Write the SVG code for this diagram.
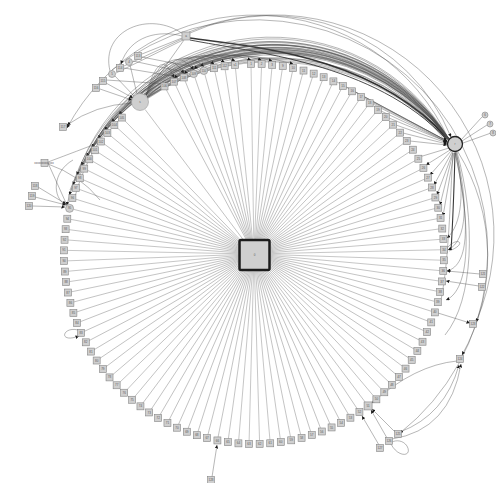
<svg xmlns="http://www.w3.org/2000/svg" width="496" height="483" viewBox="0 0 496 483">
<style>
.sp line{stroke:#a3a3a3;stroke-width:0.6}
.e path{fill:none;stroke:#4a4a4a;stroke-width:0.5;stroke-opacity:0.8}
.e .k{stroke:#222;stroke-width:1.5;stroke-opacity:0.9}
.nd rect,.nd circle{fill:#cfcfcf;stroke:#858585;stroke-width:0.6}
text{font-family:"Liberation Sans",Arial,sans-serif;font-size:3px;fill:#5a5a5a;text-anchor:middle}
</style>
<defs>
<marker id="ar" viewBox="0 0 6 6" refX="6" refY="3" markerWidth="3.5" markerHeight="3.5" orient="auto" markerUnits="userSpaceOnUse"><path d="M0,0L6,3L0,6z" fill="#1a1a1a"/></marker>
</defs>
<rect width="496" height="483" fill="#fff"/>
<g id="connectors">
<g class="sp">
<line transform="rotate(-0.9 254 254)" x1="254" y1="254" x2="254" y2="67.5"/>
<line transform="rotate(2.3 254 254)" x1="254" y1="254" x2="254" y2="67.5"/>
<line transform="rotate(5.5 254 254)" x1="254" y1="254" x2="254" y2="67.5"/>
<line transform="rotate(8.7 254 254)" x1="254" y1="254" x2="254" y2="67.5"/>
<line transform="rotate(11.9 254 254)" x1="254" y1="254" x2="254" y2="67.5"/>
<line transform="rotate(15.1 254 254)" x1="254" y1="254" x2="254" y2="67.5"/>
<line transform="rotate(18.3 254 254)" x1="254" y1="254" x2="254" y2="67.5"/>
<line transform="rotate(21.5 254 254)" x1="254" y1="254" x2="254" y2="67.5"/>
<line transform="rotate(24.7 254 254)" x1="254" y1="254" x2="254" y2="67.5"/>
<line transform="rotate(27.9 254 254)" x1="254" y1="254" x2="254" y2="67.5"/>
<line transform="rotate(31.1 254 254)" x1="254" y1="254" x2="254" y2="67.5"/>
<line transform="rotate(34.3 254 254)" x1="254" y1="254" x2="254" y2="67.5"/>
<line transform="rotate(37.5 254 254)" x1="254" y1="254" x2="254" y2="67.5"/>
<line transform="rotate(40.7 254 254)" x1="254" y1="254" x2="254" y2="67.5"/>
<line transform="rotate(43.9 254 254)" x1="254" y1="254" x2="254" y2="67.5"/>
<line transform="rotate(47.1 254 254)" x1="254" y1="254" x2="254" y2="67.5"/>
<line transform="rotate(50.3 254 254)" x1="254" y1="254" x2="254" y2="67.5"/>
<line transform="rotate(53.5 254 254)" x1="254" y1="254" x2="254" y2="67.5"/>
<line transform="rotate(56.7 254 254)" x1="254" y1="254" x2="254" y2="67.5"/>
<line transform="rotate(59.9 254 254)" x1="254" y1="254" x2="254" y2="67.5"/>
<line transform="rotate(63.1 254 254)" x1="254" y1="254" x2="254" y2="67.5"/>
<line transform="rotate(66.3 254 254)" x1="254" y1="254" x2="254" y2="67.5"/>
<line transform="rotate(69.5 254 254)" x1="254" y1="254" x2="254" y2="67.5"/>
<line transform="rotate(72.7 254 254)" x1="254" y1="254" x2="254" y2="67.5"/>
<line transform="rotate(75.9 254 254)" x1="254" y1="254" x2="254" y2="67.5"/>
<line transform="rotate(79.1 254 254)" x1="254" y1="254" x2="254" y2="67.5"/>
<line transform="rotate(82.3 254 254)" x1="254" y1="254" x2="254" y2="67.5"/>
<line transform="rotate(85.5 254 254)" x1="254" y1="254" x2="254" y2="67.5"/>
<line transform="rotate(88.7 254 254)" x1="254" y1="254" x2="254" y2="67.5"/>
<line transform="rotate(91.9 254 254)" x1="254" y1="254" x2="254" y2="67.5"/>
<line transform="rotate(95.1 254 254)" x1="254" y1="254" x2="254" y2="67.5"/>
<line transform="rotate(98.3 254 254)" x1="254" y1="254" x2="254" y2="67.5"/>
<line transform="rotate(101.5 254 254)" x1="254" y1="254" x2="254" y2="67.5"/>
<line transform="rotate(104.7 254 254)" x1="254" y1="254" x2="254" y2="67.5"/>
<line transform="rotate(107.9 254 254)" x1="254" y1="254" x2="254" y2="67.5"/>
<line transform="rotate(111.1 254 254)" x1="254" y1="254" x2="254" y2="67.5"/>
<line transform="rotate(114.3 254 254)" x1="254" y1="254" x2="254" y2="67.5"/>
<line transform="rotate(117.5 254 254)" x1="254" y1="254" x2="254" y2="67.5"/>
<line transform="rotate(120.7 254 254)" x1="254" y1="254" x2="254" y2="67.5"/>
<line transform="rotate(123.9 254 254)" x1="254" y1="254" x2="254" y2="67.5"/>
<line transform="rotate(127.1 254 254)" x1="254" y1="254" x2="254" y2="67.5"/>
<line transform="rotate(130.3 254 254)" x1="254" y1="254" x2="254" y2="67.5"/>
<line transform="rotate(133.5 254 254)" x1="254" y1="254" x2="254" y2="67.5"/>
<line transform="rotate(136.7 254 254)" x1="254" y1="254" x2="254" y2="67.5"/>
<line transform="rotate(139.9 254 254)" x1="254" y1="254" x2="254" y2="67.5"/>
<line transform="rotate(143.1 254 254)" x1="254" y1="254" x2="254" y2="67.5"/>
<line transform="rotate(146.3 254 254)" x1="254" y1="254" x2="254" y2="67.5"/>
<line transform="rotate(149.5 254 254)" x1="254" y1="254" x2="254" y2="67.5"/>
<line transform="rotate(152.7 254 254)" x1="254" y1="254" x2="254" y2="67.5"/>
<line transform="rotate(155.9 254 254)" x1="254" y1="254" x2="254" y2="67.5"/>
<line transform="rotate(159.1 254 254)" x1="254" y1="254" x2="254" y2="67.5"/>
<line transform="rotate(162.3 254 254)" x1="254" y1="254" x2="254" y2="67.5"/>
<line transform="rotate(165.5 254 254)" x1="254" y1="254" x2="254" y2="67.5"/>
<line transform="rotate(168.7 254 254)" x1="254" y1="254" x2="254" y2="67.5"/>
<line transform="rotate(171.9 254 254)" x1="254" y1="254" x2="254" y2="67.5"/>
<line transform="rotate(175.1 254 254)" x1="254" y1="254" x2="254" y2="67.5"/>
<line transform="rotate(178.3 254 254)" x1="254" y1="254" x2="254" y2="67.5"/>
<line transform="rotate(181.5 254 254)" x1="254" y1="254" x2="254" y2="67.5"/>
<line transform="rotate(184.7 254 254)" x1="254" y1="254" x2="254" y2="67.5"/>
<line transform="rotate(187.9 254 254)" x1="254" y1="254" x2="254" y2="67.5"/>
<line transform="rotate(191.1 254 254)" x1="254" y1="254" x2="254" y2="67.5"/>
<line transform="rotate(194.3 254 254)" x1="254" y1="254" x2="254" y2="67.5"/>
<line transform="rotate(197.5 254 254)" x1="254" y1="254" x2="254" y2="67.5"/>
<line transform="rotate(200.7 254 254)" x1="254" y1="254" x2="254" y2="67.5"/>
<line transform="rotate(203.9 254 254)" x1="254" y1="254" x2="254" y2="67.5"/>
<line transform="rotate(207.1 254 254)" x1="254" y1="254" x2="254" y2="67.5"/>
<line transform="rotate(210.3 254 254)" x1="254" y1="254" x2="254" y2="67.5"/>
<line transform="rotate(213.5 254 254)" x1="254" y1="254" x2="254" y2="67.5"/>
<line transform="rotate(216.7 254 254)" x1="254" y1="254" x2="254" y2="67.5"/>
<line transform="rotate(219.9 254 254)" x1="254" y1="254" x2="254" y2="67.5"/>
<line transform="rotate(223.1 254 254)" x1="254" y1="254" x2="254" y2="67.5"/>
<line transform="rotate(226.3 254 254)" x1="254" y1="254" x2="254" y2="67.5"/>
<line transform="rotate(229.5 254 254)" x1="254" y1="254" x2="254" y2="67.5"/>
<line transform="rotate(232.7 254 254)" x1="254" y1="254" x2="254" y2="67.5"/>
<line transform="rotate(235.9 254 254)" x1="254" y1="254" x2="254" y2="67.5"/>
<line transform="rotate(239.1 254 254)" x1="254" y1="254" x2="254" y2="67.5"/>
<line transform="rotate(242.3 254 254)" x1="254" y1="254" x2="254" y2="67.5"/>
<line transform="rotate(245.5 254 254)" x1="254" y1="254" x2="254" y2="67.5"/>
<line transform="rotate(248.7 254 254)" x1="254" y1="254" x2="254" y2="67.5"/>
<line transform="rotate(251.9 254 254)" x1="254" y1="254" x2="254" y2="67.5"/>
<line transform="rotate(255.1 254 254)" x1="254" y1="254" x2="254" y2="67.5"/>
<line transform="rotate(258.3 254 254)" x1="254" y1="254" x2="254" y2="67.5"/>
<line transform="rotate(261.5 254 254)" x1="254" y1="254" x2="254" y2="67.5"/>
<line transform="rotate(264.7 254 254)" x1="254" y1="254" x2="254" y2="67.5"/>
<line transform="rotate(267.9 254 254)" x1="254" y1="254" x2="254" y2="67.5"/>
<line transform="rotate(271.1 254 254)" x1="254" y1="254" x2="254" y2="67.5"/>
<line transform="rotate(274.3 254 254)" x1="254" y1="254" x2="254" y2="67.5"/>
<line transform="rotate(277.5 254 254)" x1="254" y1="254" x2="254" y2="67.5"/>
<line transform="rotate(280.7 254 254)" x1="254" y1="254" x2="254" y2="67.5"/>
<line transform="rotate(283.9 254 254)" x1="254" y1="254" x2="254" y2="68"/>
<line transform="rotate(287.1 254 254)" x1="254" y1="254" x2="254" y2="67.5"/>
<line transform="rotate(290.3 254 254)" x1="254" y1="254" x2="254" y2="67.5"/>
<line transform="rotate(293.5 254 254)" x1="254" y1="254" x2="254" y2="67.5"/>
<line transform="rotate(296.7 254 254)" x1="254" y1="254" x2="254" y2="67.5"/>
<line transform="rotate(299.9 254 254)" x1="254" y1="254" x2="254" y2="67.5"/>
<line transform="rotate(303.1 254 254)" x1="254" y1="254" x2="254" y2="67.5"/>
<line transform="rotate(306.3 254 254)" x1="254" y1="254" x2="254" y2="67.5"/>
<line transform="rotate(309.5 254 254)" x1="254" y1="254" x2="254" y2="67.5"/>
<line transform="rotate(312.7 254 254)" x1="254" y1="254" x2="254" y2="67.5"/>
<line transform="rotate(315.9 254 254)" x1="254" y1="254" x2="254" y2="67.5"/>
<line transform="rotate(323 254 254)" x1="254" y1="254" x2="254" y2="73"/>
<line transform="rotate(331.9 254 254)" x1="254" y1="254" x2="254" y2="67.5"/>
<line transform="rotate(335.1 254 254)" x1="254" y1="254" x2="254" y2="67.5"/>
<line transform="rotate(338.3 254 254)" x1="254" y1="254" x2="254" y2="67.5"/>
<line transform="rotate(341.5 254 254)" x1="254" y1="254" x2="254" y2="68"/>
<line transform="rotate(344.7 254 254)" x1="254" y1="254" x2="254" y2="68"/>
<line transform="rotate(347.9 254 254)" x1="254" y1="254" x2="254" y2="67.5"/>
<line transform="rotate(351.1 254 254)" x1="254" y1="254" x2="254" y2="67.5"/>
<line transform="rotate(354.3 254 254)" x1="254" y1="254" x2="254" y2="67.5"/>
</g>
<g class="e">
<path d="M147,97 A200,200 0 0 1 447,139"/>
<path d="M147,97 A205,205 0 0 1 447,139"/>
<path d="M147,96 A210,210 0 0 1 448,138"/>
<path d="M147,98 A214,214 0 0 1 447,140"/>
<path d="M146,96 A218,218 0 0 1 448,138"/>
<path d="M147,99 A222,222 0 0 1 446,141"/>
<path d="M147,97 A226,226 0 0 1 448,139"/>
<path d="M147,98 A232,232 0 0 1 447,139"/>
<path d="M147,97 A238,238 0 0 1 448,140"/>
<path d="M147,97 A208,208 0 0 1 447,141"/>
<path d="M146,96 A216,216 0 0 1 448,139"/>
<path d="M147,98 A224,224 0 0 1 447,139"/>
<path class="k" d="M190,38 C240,46 370,52 446,137"/>
<path class="k" d="M190,40 C250,52 375,62 446,139" style="stroke-width:0.9"/>
<path d="M449,139 A214,214 0 0 0 66.6,205.4" marker-end="url(#ar)"/>
<path d="M449,139 A210,210 0 0 0 69.4,195.1" marker-end="url(#ar)"/>
<path d="M449,139 A218,218 0 0 0 72.8,185.1" marker-end="url(#ar)"/>
<path d="M449,139 A206,206 0 0 0 76.8,175.2" marker-end="url(#ar)"/>
<path d="M449,139 A212,212 0 0 0 81.3,165.6" marker-end="url(#ar)"/>
<path d="M449,139 A220,220 0 0 0 86.3,156.3" marker-end="url(#ar)"/>
<path d="M449,139 A208,208 0 0 0 91.8,147.2" marker-end="url(#ar)"/>
<path d="M449,139 A215,215 0 0 0 97.9,138.5" marker-end="url(#ar)"/>
<path d="M449,139 A211,211 0 0 0 104.4,130.1" marker-end="url(#ar)"/>
<path d="M449,139 A217,217 0 0 0 111.4,122.1" marker-end="url(#ar)"/>
<path d="M449,139 A209,209 0 0 0 118.8,114.6" marker-end="url(#ar)"/>
<path d="M449,140 A213,213 0 0 0 67,128" marker-end="url(#ar)"/>
<path d="M449,140 A207,207 0 0 0 74,200"/>
<path d="M449,140 A219,219 0 0 0 70,190"/>
<path d="M448,139 A204,204 0 0 0 79,178"/>
<path d="M448,139 A221,221 0 0 0 84,160"/>
<path d="M448,140 A210,210 0 0 0 90,150"/>
<path d="M448,140 A216,216 0 0 0 100,134"/>
<path d="M448,139 A206,206 0 0 0 108,126"/>
<path d="M448,139 A213,213 0 0 0 76,181"/>
<path d="M146,95 Q160,44 174,77.7" marker-end="url(#ar)"/>
<path d="M146,95 Q165,42 183.8,73.5" marker-end="url(#ar)"/>
<path d="M146,95 Q170,40 193.7,69.8" marker-end="url(#ar)"/>
<path d="M146,95 Q175,40 203.9,66.7" marker-end="url(#ar)"/>
<path d="M146,95 Q180,40 214.2,64.2" marker-end="url(#ar)"/>
<path d="M146,95 Q185,40 224.6,62.3" marker-end="url(#ar)"/>
<path d="M146,95 Q190,40 235.1,60.9" marker-end="url(#ar)"/>
<path d="M146,95 Q198,40 251,60" marker-end="url(#ar)"/>
<path d="M146,95 Q204,40 261.6,60.2" marker-end="url(#ar)"/>
<path d="M146,95 Q209,40 272.2,60.9" marker-end="url(#ar)"/>
<path d="M146,95 Q220,40 293.2,64.1" marker-end="url(#ar)"/>
<path d="M337,82 L447,141" marker-end="url(#ar)"/>
<path d="M346,87 L447,141" marker-end="url(#ar)"/>
<path d="M355,92 L447,141" marker-end="url(#ar)"/>
<path d="M364,98 L447,141" marker-end="url(#ar)"/>
<path d="M373,104 L447,142" marker-end="url(#ar)"/>
<path d="M381,111 L447,142" marker-end="url(#ar)"/>
<path d="M389,118 L447,142" marker-end="url(#ar)"/>
<path d="M396,125 L447,143" marker-end="url(#ar)"/>
<path d="M403,133 L447,144" marker-end="url(#ar)"/>
<path d="M410,141 L447,145" marker-end="url(#ar)"/>
<path d="M449,148 L416,158" marker-end="url(#ar)"/>
<path d="M450,150 L426,165" marker-end="url(#ar)"/>
<path d="M451,151 L430,175" marker-end="url(#ar)"/>
<path d="M452,152 L434,185" marker-end="url(#ar)"/>
<path d="M453,152 L437,195" marker-end="url(#ar)"/>
<path d="M453,153 L440,205" marker-end="url(#ar)"/>
<path d="M454,153 L443,216" marker-end="url(#ar)"/>
<path class="k" d="M455,153 C454,190 453,220 451,250" style="stroke-width:1.1"/>
<path d="M456,152 C465,190 462,225 447,238" marker-end="url(#ar)"/>
<path d="M456,152 C468,200 468,240 448,250" marker-end="url(#ar)"/>
<path d="M455,152 C470,220 470,265 447,271" marker-end="url(#ar)"/>
<path d="M455,152 C472,230 470,290 446,300" marker-end="url(#ar)"/>
<path d="M457,152 C476,220 474,300 445,335"/>
<path d="M453,153 C450,200 449,260 441,300"/>
<path d="M448,247 C458,236 468,244 449,251"/>
<path d="M458,152 A200,200 0 0 1 462,355" marker-end="url(#ar)"/>
<path d="M461,140 L482,117"/>
<path d="M462,141 L487,125"/>
<path d="M463,143 L491,133"/>
<path d="M190,33 A195,195 0 0 1 451,137" marker-end="url(#ar)"/>
<path d="M112,70 A229,229 0 1 1 400,433" marker-end="url(#ar)"/>
<path d="M189,32 A220,220 0 0 1 476,322" marker-end="url(#ar)"/>
<path d="M480,274 L447,271" marker-end="url(#ar)"/>
<path d="M479,286 L446,281" marker-end="url(#ar)"/>
<path d="M438,313 L470,323" marker-end="url(#ar)"/>
<path d="M392,439 Q450,430 461,364" marker-end="url(#ar)"/>
<path d="M400,432 Q445,415 459,365" marker-end="url(#ar)"/>
<path d="M457,361 Q415,365 372,403" marker-end="url(#ar)"/>
<path d="M387,438 L371,410" marker-end="url(#ar)"/>
<path d="M395,432 L372,409" marker-end="url(#ar)"/>
<path d="M379,445 L362,416" marker-end="url(#ar)"/>
<path d="M391,444 C398,458 413,457 407,446 C403,440 396,440 392,442"/>
<path d="M212,477 L217,445" marker-end="url(#ar)"/>
<path d="M182,38 L142,54"/>
<path d="M182,39 L124,66"/>
<path d="M183,40 L116,73"/>
<path d="M184,40 L145,95"/>
<path d="M183,34 C150,10 100,30 110,71"/>
<path d="M182,36 C160,30 130,35 121,64" marker-end="url(#ar)"/>
<path d="M106,83 L133,98" marker-end="url(#ar)"/>
<path d="M100,89 L132,100" marker-end="url(#ar)"/>
<path d="M115,76 L134,96"/>
<path d="M130,65 L137,94"/>
<path d="M142,57 L198,68" marker-end="url(#ar)"/>
<path d="M133,61 L188,73" marker-end="url(#ar)"/>
<path d="M124,68 L178,77" marker-end="url(#ar)"/>
<path d="M106,80 L168,84" marker-end="url(#ar)"/>
<path d="M132,103 Q95,105 67,125" marker-end="url(#ar)"/>
<path d="M48,163 L66,203"/>
<path d="M48,162 Q80,150 98,143"/>
<path d="M48,164 Q80,175 100,200"/>
<path d="M38,187 L66,204" marker-end="url(#ar)"/>
<path d="M35,197 L66,205" marker-end="url(#ar)"/>
<path d="M32,206 L65,207" marker-end="url(#ar)"/>
<path d="M73,160 C52,172 52,198 66,205"/>
<path d="M78,330 C62,326 58,344 79,336" marker-end="url(#ar)"/>
</g>
</g>
<g id="center" class="nd"><rect x="239.5" y="240" width="30" height="30" rx="1.5" style="stroke:#1c1c1c;stroke-width:2.5"/><text x="254.5" y="256">0</text></g>
<g id="hubL" class="nd"><circle cx="140" cy="102" r="8.5" style="stroke:#999"/><text x="140" y="103">s</text></g>
<g id="hubR" class="nd"><circle cx="455" cy="144" r="7.5" style="stroke:#222;stroke-width:1.3"/><text x="455" y="145">r</text></g>
<g id="o1" class="nd"><rect x="182" y="32" width="8" height="8"/><text x="186" y="37">a</text></g>
<g id="o2" class="nd"><rect x="134.5" y="52.5" width="7" height="7"/><text x="138" y="57">113</text></g>
<g id="o3" class="nd"><circle cx="129" cy="62" r="3.5"/><text x="129" y="63">4</text></g>
<g id="o4" class="nd"><rect x="116.5" y="64.5" width="7" height="7"/><text x="120" y="69">114</text></g>
<g id="o5" class="nd"><circle cx="112" cy="74" r="3.5"/><text x="112" y="75">5</text></g>
<g id="o6" class="nd"><rect x="99.5" y="77.5" width="7" height="7"/><text x="103" y="82">115</text></g>
<g id="o7" class="nd"><rect x="92.5" y="84.5" width="7" height="7"/><text x="96" y="89">116</text></g>
<g id="o8" class="nd"><rect x="59.5" y="123.5" width="7" height="7"/><text x="63" y="128">117</text></g>
<g id="o9" class="nd"><rect x="41" y="159.5" width="7" height="7"/><text x="44" y="164">xxxxxxxxxxxxx</text></g>
<g id="o10" class="nd"><rect x="31.5" y="182.5" width="7" height="7"/><text x="35" y="187">118</text></g>
<g id="o11" class="nd"><rect x="28.5" y="192.5" width="7" height="7"/><text x="32" y="197">119</text></g>
<g id="o12" class="nd"><rect x="25.5" y="202.5" width="7" height="7"/><text x="29" y="207">120</text></g>
<g id="o13" class="nd"><circle cx="485" cy="115" r="3"/><text x="485" y="116">6</text></g>
<g id="o14" class="nd"><circle cx="490" cy="124" r="3"/><text x="490" y="125">7</text></g>
<g id="o15" class="nd"><circle cx="493" cy="133" r="3"/><text x="493" y="134">8</text></g>
<g id="o16" class="nd"><rect x="479.5" y="270.5" width="7" height="7"/><text x="483" y="275">121</text></g>
<g id="o17" class="nd"><rect x="478.5" y="283.5" width="7" height="7"/><text x="482" y="288">122</text></g>
<g id="o18" class="nd"><rect x="469.5" y="320.5" width="7" height="7"/><text x="473" y="325">123</text></g>
<g id="o19" class="nd"><rect x="456.5" y="355.5" width="7" height="7"/><text x="460" y="360">124</text></g>
<g id="o20" class="nd"><rect x="394.5" y="430.5" width="7" height="7"/><text x="398" y="435">125</text></g>
<g id="o21" class="nd"><rect x="385.5" y="437.5" width="7" height="7"/><text x="389" y="442">126</text></g>
<g id="o22" class="nd"><rect x="376.5" y="444.5" width="7" height="7"/><text x="380" y="449">127</text></g>
<g id="o23" class="nd"><rect x="207.5" y="476.5" width="7" height="7"/><text x="211" y="481">128</text></g>
<g id="n1" class="nd" transform="rotate(-0.9 254 254) translate(0 -190) rotate(0.9 254 254)"><rect x="250.5" y="250.5" width="7" height="7"/><text x="254" y="255.1">1</text></g>
<g id="n2" class="nd" transform="rotate(2.3 254 254) translate(0 -190) rotate(-2.3 254 254)"><rect x="250.5" y="250.5" width="7" height="7"/><text x="254" y="255.1">2</text></g>
<g id="n3" class="nd" transform="rotate(5.5 254 254) translate(0 -190) rotate(-5.5 254 254)"><rect x="250.5" y="250.5" width="7" height="7"/><text x="254" y="255.1">3</text></g>
<g id="n4" class="nd" transform="rotate(8.7 254 254) translate(0 -190) rotate(-8.7 254 254)"><rect x="250.5" y="250.5" width="7" height="7"/><text x="254" y="255.1">9</text></g>
<g id="n5" class="nd" transform="rotate(11.9 254 254) translate(0 -190) rotate(-11.9 254 254)"><rect x="250.5" y="250.5" width="7" height="7"/><text x="254" y="255.1">10</text></g>
<g id="n6" class="nd" transform="rotate(15.1 254 254) translate(0 -190) rotate(-15.1 254 254)"><rect x="250.5" y="250.5" width="7" height="7"/><text x="254" y="255.1">11</text></g>
<g id="n7" class="nd" transform="rotate(18.3 254 254) translate(0 -190) rotate(-18.3 254 254)"><rect x="250.5" y="250.5" width="7" height="7"/><text x="254" y="255.1">12</text></g>
<g id="n8" class="nd" transform="rotate(21.5 254 254) translate(0 -190) rotate(-21.5 254 254)"><rect x="250.5" y="250.5" width="7" height="7"/><text x="254" y="255.1">13</text></g>
<g id="n9" class="nd" transform="rotate(24.7 254 254) translate(0 -190) rotate(-24.7 254 254)"><rect x="250.5" y="250.5" width="7" height="7"/><text x="254" y="255.1">14</text></g>
<g id="n10" class="nd" transform="rotate(27.9 254 254) translate(0 -190) rotate(-27.9 254 254)"><rect x="250.5" y="250.5" width="7" height="7"/><text x="254" y="255.1">15</text></g>
<g id="n11" class="nd" transform="rotate(31.1 254 254) translate(0 -190) rotate(-31.1 254 254)"><rect x="250.5" y="250.5" width="7" height="7"/><text x="254" y="255.1">16</text></g>
<g id="n12" class="nd" transform="rotate(34.3 254 254) translate(0 -190) rotate(-34.3 254 254)"><rect x="250.5" y="250.5" width="7" height="7"/><text x="254" y="255.1">17</text></g>
<g id="n13" class="nd" transform="rotate(37.5 254 254) translate(0 -190) rotate(-37.5 254 254)"><rect x="250.5" y="250.5" width="7" height="7"/><text x="254" y="255.1">18</text></g>
<g id="n14" class="nd" transform="rotate(40.7 254 254) translate(0 -190) rotate(-40.7 254 254)"><rect x="250.5" y="250.5" width="7" height="7"/><text x="254" y="255.1">19</text></g>
<g id="n15" class="nd" transform="rotate(43.9 254 254) translate(0 -190) rotate(-43.9 254 254)"><rect x="250.5" y="250.5" width="7" height="7"/><text x="254" y="255.1">20</text></g>
<g id="n16" class="nd" transform="rotate(47.1 254 254) translate(0 -190) rotate(-47.1 254 254)"><rect x="250.5" y="250.5" width="7" height="7"/><text x="254" y="255.1">21</text></g>
<g id="n17" class="nd" transform="rotate(50.3 254 254) translate(0 -190) rotate(-50.3 254 254)"><rect x="250.5" y="250.5" width="7" height="7"/><text x="254" y="255.1">22</text></g>
<g id="n18" class="nd" transform="rotate(53.5 254 254) translate(0 -190) rotate(-53.5 254 254)"><rect x="250.5" y="250.5" width="7" height="7"/><text x="254" y="255.1">23</text></g>
<g id="n19" class="nd" transform="rotate(56.7 254 254) translate(0 -190) rotate(-56.7 254 254)"><rect x="250.5" y="250.5" width="7" height="7"/><text x="254" y="255.1">24</text></g>
<g id="n20" class="nd" transform="rotate(59.9 254 254) translate(0 -190) rotate(-59.9 254 254)"><rect x="250.5" y="250.5" width="7" height="7"/><text x="254" y="255.1">25</text></g>
<g id="n21" class="nd" transform="rotate(63.1 254 254) translate(0 -190) rotate(-63.1 254 254)"><rect x="250.5" y="250.5" width="7" height="7"/><text x="254" y="255.1">26</text></g>
<g id="n22" class="nd" transform="rotate(66.3 254 254) translate(0 -190) rotate(-66.3 254 254)"><rect x="250.5" y="250.5" width="7" height="7"/><text x="254" y="255.1">27</text></g>
<g id="n23" class="nd" transform="rotate(69.5 254 254) translate(0 -190) rotate(-69.5 254 254)"><rect x="250.5" y="250.5" width="7" height="7"/><text x="254" y="255.1">28</text></g>
<g id="n24" class="nd" transform="rotate(72.7 254 254) translate(0 -190) rotate(-72.7 254 254)"><rect x="250.5" y="250.5" width="7" height="7"/><text x="254" y="255.1">29</text></g>
<g id="n25" class="nd" transform="rotate(75.9 254 254) translate(0 -190) rotate(-75.9 254 254)"><rect x="250.5" y="250.5" width="7" height="7"/><text x="254" y="255.1">30</text></g>
<g id="n26" class="nd" transform="rotate(79.1 254 254) translate(0 -190) rotate(-79.1 254 254)"><rect x="250.5" y="250.5" width="7" height="7"/><text x="254" y="255.1">31</text></g>
<g id="n27" class="nd" transform="rotate(82.3 254 254) translate(0 -190) rotate(-82.3 254 254)"><rect x="250.5" y="250.5" width="7" height="7"/><text x="254" y="255.1">32</text></g>
<g id="n28" class="nd" transform="rotate(85.5 254 254) translate(0 -190) rotate(-85.5 254 254)"><rect x="250.5" y="250.5" width="7" height="7"/><text x="254" y="255.1">33</text></g>
<g id="n29" class="nd" transform="rotate(88.7 254 254) translate(0 -190) rotate(-88.7 254 254)"><rect x="250.5" y="250.5" width="7" height="7"/><text x="254" y="255.1">34</text></g>
<g id="n30" class="nd" transform="rotate(91.9 254 254) translate(0 -190) rotate(-91.9 254 254)"><rect x="250.5" y="250.5" width="7" height="7"/><text x="254" y="255.1">35</text></g>
<g id="n31" class="nd" transform="rotate(95.1 254 254) translate(0 -190) rotate(-95.1 254 254)"><rect x="250.5" y="250.5" width="7" height="7"/><text x="254" y="255.1">36</text></g>
<g id="n32" class="nd" transform="rotate(98.3 254 254) translate(0 -190) rotate(-98.3 254 254)"><rect x="250.5" y="250.5" width="7" height="7"/><text x="254" y="255.1">37</text></g>
<g id="n33" class="nd" transform="rotate(101.5 254 254) translate(0 -190) rotate(-101.5 254 254)"><rect x="250.5" y="250.5" width="7" height="7"/><text x="254" y="255.1">38</text></g>
<g id="n34" class="nd" transform="rotate(104.7 254 254) translate(0 -190) rotate(-104.7 254 254)"><rect x="250.5" y="250.5" width="7" height="7"/><text x="254" y="255.1">39</text></g>
<g id="n35" class="nd" transform="rotate(107.9 254 254) translate(0 -190) rotate(-107.9 254 254)"><rect x="250.5" y="250.5" width="7" height="7"/><text x="254" y="255.1">40</text></g>
<g id="n36" class="nd" transform="rotate(111.1 254 254) translate(0 -190) rotate(-111.1 254 254)"><rect x="250.5" y="250.5" width="7" height="7"/><text x="254" y="255.1">41</text></g>
<g id="n37" class="nd" transform="rotate(114.3 254 254) translate(0 -190) rotate(-114.3 254 254)"><rect x="250.5" y="250.5" width="7" height="7"/><text x="254" y="255.1">42</text></g>
<g id="n38" class="nd" transform="rotate(117.5 254 254) translate(0 -190) rotate(-117.5 254 254)"><rect x="250.5" y="250.5" width="7" height="7"/><text x="254" y="255.1">43</text></g>
<g id="n39" class="nd" transform="rotate(120.7 254 254) translate(0 -190) rotate(-120.7 254 254)"><rect x="250.5" y="250.5" width="7" height="7"/><text x="254" y="255.1">44</text></g>
<g id="n40" class="nd" transform="rotate(123.9 254 254) translate(0 -190) rotate(-123.9 254 254)"><rect x="250.5" y="250.5" width="7" height="7"/><text x="254" y="255.1">45</text></g>
<g id="n41" class="nd" transform="rotate(127.1 254 254) translate(0 -190) rotate(-127.1 254 254)"><rect x="250.5" y="250.5" width="7" height="7"/><text x="254" y="255.1">46</text></g>
<g id="n42" class="nd" transform="rotate(130.3 254 254) translate(0 -190) rotate(-130.3 254 254)"><rect x="250.5" y="250.5" width="7" height="7"/><text x="254" y="255.1">47</text></g>
<g id="n43" class="nd" transform="rotate(133.5 254 254) translate(0 -190) rotate(-133.5 254 254)"><rect x="250.5" y="250.5" width="7" height="7"/><text x="254" y="255.1">48</text></g>
<g id="n44" class="nd" transform="rotate(136.7 254 254) translate(0 -190) rotate(-136.7 254 254)"><rect x="250.5" y="250.5" width="7" height="7"/><text x="254" y="255.1">49</text></g>
<g id="n45" class="nd" transform="rotate(139.9 254 254) translate(0 -190) rotate(-139.9 254 254)"><rect x="250.5" y="250.5" width="7" height="7"/><text x="254" y="255.1">50</text></g>
<g id="n46" class="nd" transform="rotate(143.1 254 254) translate(0 -190) rotate(-143.1 254 254)"><rect x="250" y="250" width="8" height="8"/><text x="254" y="255.1">51</text></g>
<g id="n47" class="nd" transform="rotate(146.3 254 254) translate(0 -190) rotate(-146.3 254 254)"><rect x="250.5" y="250.5" width="7" height="7"/><text x="254" y="255.1">52</text></g>
<g id="n48" class="nd" transform="rotate(149.5 254 254) translate(0 -190) rotate(-149.5 254 254)"><rect x="250.5" y="250.5" width="7" height="7"/><text x="254" y="255.1">53</text></g>
<g id="n49" class="nd" transform="rotate(152.7 254 254) translate(0 -190) rotate(-152.7 254 254)"><rect x="250.5" y="250.5" width="7" height="7"/><text x="254" y="255.1">54</text></g>
<g id="n50" class="nd" transform="rotate(155.9 254 254) translate(0 -190) rotate(-155.9 254 254)"><rect x="250.5" y="250.5" width="7" height="7"/><text x="254" y="255.1">55</text></g>
<g id="n51" class="nd" transform="rotate(159.1 254 254) translate(0 -190) rotate(-159.1 254 254)"><rect x="250.5" y="250.5" width="7" height="7"/><text x="254" y="255.1">56</text></g>
<g id="n52" class="nd" transform="rotate(162.3 254 254) translate(0 -190) rotate(-162.3 254 254)"><rect x="250.5" y="250.5" width="7" height="7"/><text x="254" y="255.1">57</text></g>
<g id="n53" class="nd" transform="rotate(165.5 254 254) translate(0 -190) rotate(-165.5 254 254)"><rect x="250.5" y="250.5" width="7" height="7"/><text x="254" y="255.1">58</text></g>
<g id="n54" class="nd" transform="rotate(168.7 254 254) translate(0 -190) rotate(-168.7 254 254)"><rect x="250.5" y="250.5" width="7" height="7"/><text x="254" y="255.1">59</text></g>
<g id="n55" class="nd" transform="rotate(171.9 254 254) translate(0 -190) rotate(-171.9 254 254)"><rect x="250.5" y="250.5" width="7" height="7"/><text x="254" y="255.1">60</text></g>
<g id="n56" class="nd" transform="rotate(175.1 254 254) translate(0 -190) rotate(-175.1 254 254)"><rect x="250.5" y="250.5" width="7" height="7"/><text x="254" y="255.1">61</text></g>
<g id="n57" class="nd" transform="rotate(178.3 254 254) translate(0 -190) rotate(-178.3 254 254)"><rect x="250.5" y="250.5" width="7" height="7"/><text x="254" y="255.1">62</text></g>
<g id="n58" class="nd" transform="rotate(181.5 254 254) translate(0 -190) rotate(-181.5 254 254)"><rect x="250.5" y="250.5" width="7" height="7"/><text x="254" y="255.1">63</text></g>
<g id="n59" class="nd" transform="rotate(184.7 254 254) translate(0 -190) rotate(-184.7 254 254)"><rect x="250.5" y="250.5" width="7" height="7"/><text x="254" y="255.1">64</text></g>
<g id="n60" class="nd" transform="rotate(187.9 254 254) translate(0 -190) rotate(-187.9 254 254)"><rect x="250.5" y="250.5" width="7" height="7"/><text x="254" y="255.1">65</text></g>
<g id="n61" class="nd" transform="rotate(191.1 254 254) translate(0 -190) rotate(-191.1 254 254)"><rect x="250.5" y="250.5" width="7" height="7"/><text x="254" y="255.1">66</text></g>
<g id="n62" class="nd" transform="rotate(194.3 254 254) translate(0 -190) rotate(-194.3 254 254)"><rect x="250.5" y="250.5" width="7" height="7"/><text x="254" y="255.1">67</text></g>
<g id="n63" class="nd" transform="rotate(197.5 254 254) translate(0 -190) rotate(-197.5 254 254)"><rect x="250.5" y="250.5" width="7" height="7"/><text x="254" y="255.1">68</text></g>
<g id="n64" class="nd" transform="rotate(200.7 254 254) translate(0 -190) rotate(-200.7 254 254)"><rect x="250.5" y="250.5" width="7" height="7"/><text x="254" y="255.1">69</text></g>
<g id="n65" class="nd" transform="rotate(203.9 254 254) translate(0 -190) rotate(-203.9 254 254)"><rect x="250.5" y="250.5" width="7" height="7"/><text x="254" y="255.1">70</text></g>
<g id="n66" class="nd" transform="rotate(207.1 254 254) translate(0 -190) rotate(-207.1 254 254)"><rect x="250.5" y="250.5" width="7" height="7"/><text x="254" y="255.1">71</text></g>
<g id="n67" class="nd" transform="rotate(210.3 254 254) translate(0 -190) rotate(-210.3 254 254)"><rect x="250.5" y="250.5" width="7" height="7"/><text x="254" y="255.1">72</text></g>
<g id="n68" class="nd" transform="rotate(213.5 254 254) translate(0 -190) rotate(-213.5 254 254)"><rect x="250.5" y="250.5" width="7" height="7"/><text x="254" y="255.1">73</text></g>
<g id="n69" class="nd" transform="rotate(216.7 254 254) translate(0 -190) rotate(-216.7 254 254)"><rect x="250.5" y="250.5" width="7" height="7"/><text x="254" y="255.1">74</text></g>
<g id="n70" class="nd" transform="rotate(219.9 254 254) translate(0 -190) rotate(-219.9 254 254)"><rect x="250.5" y="250.5" width="7" height="7"/><text x="254" y="255.1">75</text></g>
<g id="n71" class="nd" transform="rotate(223.1 254 254) translate(0 -190) rotate(-223.1 254 254)"><rect x="250.5" y="250.5" width="7" height="7"/><text x="254" y="255.1">76</text></g>
<g id="n72" class="nd" transform="rotate(226.3 254 254) translate(0 -190) rotate(-226.3 254 254)"><rect x="250.5" y="250.5" width="7" height="7"/><text x="254" y="255.1">77</text></g>
<g id="n73" class="nd" transform="rotate(229.5 254 254) translate(0 -190) rotate(-229.5 254 254)"><rect x="250.5" y="250.5" width="7" height="7"/><text x="254" y="255.1">78</text></g>
<g id="n74" class="nd" transform="rotate(232.7 254 254) translate(0 -190) rotate(-232.7 254 254)"><rect x="250.5" y="250.5" width="7" height="7"/><text x="254" y="255.1">79</text></g>
<g id="n75" class="nd" transform="rotate(235.9 254 254) translate(0 -190) rotate(-235.9 254 254)"><rect x="250.5" y="250.5" width="7" height="7"/><text x="254" y="255.1">80</text></g>
<g id="n76" class="nd" transform="rotate(239.1 254 254) translate(0 -190) rotate(-239.1 254 254)"><rect x="250.5" y="250.5" width="7" height="7"/><text x="254" y="255.1">81</text></g>
<g id="n77" class="nd" transform="rotate(242.3 254 254) translate(0 -190) rotate(-242.3 254 254)"><rect x="250.5" y="250.5" width="7" height="7"/><text x="254" y="255.1">82</text></g>
<g id="n78" class="nd" transform="rotate(245.5 254 254) translate(0 -190) rotate(-245.5 254 254)"><rect x="250.5" y="250.5" width="7" height="7"/><text x="254" y="255.1">83</text></g>
<g id="n79" class="nd" transform="rotate(248.7 254 254) translate(0 -190) rotate(-248.7 254 254)"><rect x="250.5" y="250.5" width="7" height="7"/><text x="254" y="255.1">84</text></g>
<g id="n80" class="nd" transform="rotate(251.9 254 254) translate(0 -190) rotate(-251.9 254 254)"><rect x="250.5" y="250.5" width="7" height="7"/><text x="254" y="255.1">85</text></g>
<g id="n81" class="nd" transform="rotate(255.1 254 254) translate(0 -190) rotate(-255.1 254 254)"><rect x="250.5" y="250.5" width="7" height="7"/><text x="254" y="255.1">86</text></g>
<g id="n82" class="nd" transform="rotate(258.3 254 254) translate(0 -190) rotate(-258.3 254 254)"><rect x="250.5" y="250.5" width="7" height="7"/><text x="254" y="255.1">87</text></g>
<g id="n83" class="nd" transform="rotate(261.5 254 254) translate(0 -190) rotate(-261.5 254 254)"><rect x="250.5" y="250.5" width="7" height="7"/><text x="254" y="255.1">88</text></g>
<g id="n84" class="nd" transform="rotate(264.7 254 254) translate(0 -190) rotate(-264.7 254 254)"><rect x="250.5" y="250.5" width="7" height="7"/><text x="254" y="255.1">89</text></g>
<g id="n85" class="nd" transform="rotate(267.9 254 254) translate(0 -190) rotate(-267.9 254 254)"><rect x="250.5" y="250.5" width="7" height="7"/><text x="254" y="255.1">90</text></g>
<g id="n86" class="nd" transform="rotate(271.1 254 254) translate(0 -190) rotate(-271.1 254 254)"><rect x="250.5" y="250.5" width="7" height="7"/><text x="254" y="255.1">91</text></g>
<g id="n87" class="nd" transform="rotate(274.3 254 254) translate(0 -190) rotate(-274.3 254 254)"><rect x="250.5" y="250.5" width="7" height="7"/><text x="254" y="255.1">92</text></g>
<g id="n88" class="nd" transform="rotate(277.5 254 254) translate(0 -190) rotate(-277.5 254 254)"><rect x="250.5" y="250.5" width="7" height="7"/><text x="254" y="255.1">93</text></g>
<g id="n89" class="nd" transform="rotate(280.7 254 254) translate(0 -190) rotate(-280.7 254 254)"><rect x="250.5" y="250.5" width="7" height="7"/><text x="254" y="255.1">94</text></g>
<g id="n90" class="nd" transform="rotate(283.9 254 254) translate(0 -190) rotate(-283.9 254 254)"><circle cx="254" cy="254" r="4"/><text x="254" y="255.1">95</text></g>
<g id="n91" class="nd" transform="rotate(287.1 254 254) translate(0 -190) rotate(-287.1 254 254)"><rect x="250.5" y="250.5" width="7" height="7"/><text x="254" y="255.1">96</text></g>
<g id="n92" class="nd" transform="rotate(290.3 254 254) translate(0 -190) rotate(-290.3 254 254)"><rect x="250.5" y="250.5" width="7" height="7"/><text x="254" y="255.1">97</text></g>
<g id="n93" class="nd" transform="rotate(293.5 254 254) translate(0 -190) rotate(-293.5 254 254)"><rect x="250.5" y="250.5" width="7" height="7"/><text x="254" y="255.1">98</text></g>
<g id="n94" class="nd" transform="rotate(296.7 254 254) translate(0 -190) rotate(-296.7 254 254)"><rect x="250.5" y="250.5" width="7" height="7"/><text x="254" y="255.1">99</text></g>
<g id="n95" class="nd" transform="rotate(299.9 254 254) translate(0 -190) rotate(-299.9 254 254)"><rect x="250.5" y="250.5" width="7" height="7"/><text x="254" y="255.1">100</text></g>
<g id="n96" class="nd" transform="rotate(303.1 254 254) translate(0 -190) rotate(-303.1 254 254)"><rect x="250.5" y="250.5" width="7" height="7"/><text x="254" y="255.1">101</text></g>
<g id="n97" class="nd" transform="rotate(306.3 254 254) translate(0 -190) rotate(-306.3 254 254)"><rect x="250.5" y="250.5" width="7" height="7"/><text x="254" y="255.1">102</text></g>
<g id="n98" class="nd" transform="rotate(309.5 254 254) translate(0 -190) rotate(-309.5 254 254)"><rect x="250.5" y="250.5" width="7" height="7"/><text x="254" y="255.1">103</text></g>
<g id="n99" class="nd" transform="rotate(312.7 254 254) translate(0 -190) rotate(-312.7 254 254)"><rect x="250.5" y="250.5" width="7" height="7"/><text x="254" y="255.1">104</text></g>
<g id="n100" class="nd" transform="rotate(315.9 254 254) translate(0 -190) rotate(-315.9 254 254)"><rect x="250.5" y="250.5" width="7" height="7"/><text x="254" y="255.1">105</text></g>
<g id="n105" class="nd" transform="rotate(331.9 254 254) translate(0 -190) rotate(-331.9 254 254)"><rect x="250.5" y="250.5" width="7" height="7"/><text x="254" y="255.1">106</text></g>
<g id="n106" class="nd" transform="rotate(335.1 254 254) translate(0 -190) rotate(-335.1 254 254)"><rect x="250.5" y="250.5" width="7" height="7"/><text x="254" y="255.1">107</text></g>
<g id="n107" class="nd" transform="rotate(338.3 254 254) translate(0 -190) rotate(-338.3 254 254)"><rect x="250.5" y="250.5" width="7" height="7"/><text x="254" y="255.1">108</text></g>
<g id="n108" class="nd" transform="rotate(341.5 254 254) translate(0 -190) rotate(-341.5 254 254)"><circle cx="254" cy="254" r="3.8"/><text x="254" y="255.1">109</text></g>
<g id="n109" class="nd" transform="rotate(344.7 254 254) translate(0 -190) rotate(-344.7 254 254)"><circle cx="254" cy="254" r="3.8"/><text x="254" y="255.1">110</text></g>
<g id="n110" class="nd" transform="rotate(347.9 254 254) translate(0 -190) rotate(-347.9 254 254)"><rect x="250.5" y="250.5" width="7" height="7"/><text x="254" y="255.1">111</text></g>
<g id="n111" class="nd" transform="rotate(351.1 254 254) translate(0 -190) rotate(-351.1 254 254)"><rect x="250.5" y="250.5" width="7" height="7"/><text x="254" y="255.1">112</text></g>
<g id="n112" class="nd" transform="rotate(354.3 254 254) translate(0 -190) rotate(-354.3 254 254)"><rect x="250.5" y="250.5" width="7" height="7"/><text x="254" y="255.1">s1</text></g>
</svg>
